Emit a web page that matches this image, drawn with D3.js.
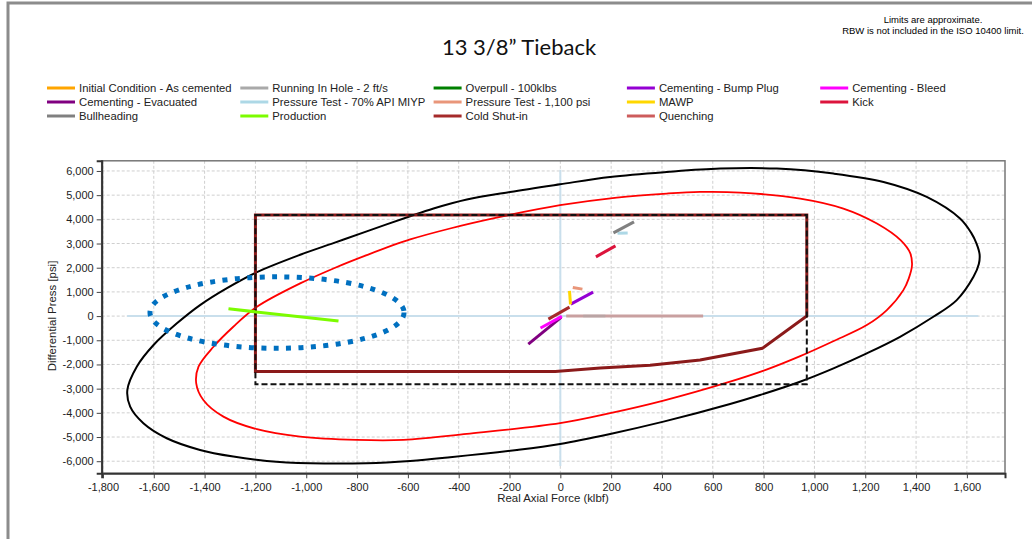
<!DOCTYPE html>
<html>
<head>
<meta charset="utf-8">
<script src="https://cdn.jsdelivr.net/npm/d3@7"></script>
<style>
  body { margin: 0; background: #fff; }
  svg { display: block; font-family: "Liberation Sans", Arial, sans-serif; }
</style>
</head>
<body>
<div id="chart"></div>
<script>
// ---- data ----
var legendNames = [
  "Initial Condition - As cemented", "Running In Hole - 2 ft/s", "Overpull - 100klbs", "Cementing - Bump Plug", "Cementing - Bleed",
  "Cementing - Evacuated", "Pressure Test - 70% API MIYP", "Pressure Test - 1,100 psi", "MAWP", "Kick",
  "Bullheading", "Production", "Cold Shut-in", "Quenching"
];
var legendColors = [
  "#FFA500", "#A9A9A9", "#008000", "#9400D3", "#FF00FF",
  "#800080", "#ADD8E6", "#E9967A", "#FFD700", "#DC143C",
  "#808080", "#7CFC00", "#A52A2A", "#CD5C5C"
];

var xTicks = d3.range(-1800, 1601, 200);
var yTicks = d3.range(-6000, 6001, 1000);

// von Mises ellipse (black) [axial klbf, diff psi]
var vmeOuter = [
  [1650, 2550], [1638, 3000], [1617, 3440], [1573, 4034], [1442, 4926], [1272, 5545], [1075, 5892], [852, 6098],
  [629, 6098], [419, 5958], [196, 5751], [-1, 5450], [-198, 5132], [-368, 4818], [-499, 4447],
  [-591, 4129], [-762, 3501], [-893, 3018], [-1024, 2535], [-1194, 1817], [-1312, 1156], [-1418, 454],
  [-1509, -301], [-1601, -1197], [-1667, -2093], [-1704, -3055], [-1693, -3745], [-1641, -4430],
  [-1549, -5050], [-1418, -5533], [-1287, -5809], [-1155, -5987], [-985, -6082], [-762, -6082],
  [-591, -5987], [-434, -5834], [-171, -5533], [-1, -5285], [196, -4872], [406, -4364], [668, -3633],
  [786, -3262], [943, -2713], [1075, -2159], [1206, -1540], [1337, -855], [1468, -29], [1560, 661],
  [1626, 1623], [1647, 2150]
];
// design ellipse (red)
var vmeDesign = [
  [1384, 2100], [1377, 2600], [1340, 3130], [1246, 3827], [1114, 4447], [944, 4860], [708, 5107], [550, 5132],
  [419, 5066], [222, 4901], [-1, 4583], [-237, 4100], [-434, 3621], [-591, 3167], [-762, 2519],
  [-893, 1969], [-1024, 1350], [-1194, 384], [-1287, -442], [-1365, -1268], [-1424, -2093],
  [-1433, -2779], [-1405, -3468], [-1326, -4158], [-1194, -4678], [-1024, -4983], [-801, -5120],
  [-617, -5120], [-368, -4872], [-1, -4430], [196, -4017], [406, -3497], [668, -2713], [806, -2234],
  [944, -1656], [1074, -1040], [1206, -372], [1285, 248], [1350, 1073], [1371, 1550]
];
// API limits (black dashed box) and triaxial-adjusted envelope (dark red)
var apiBox = [[-1200, 4180], [970, 4180], [970, -2820], [-1200, -2820]];
var designEnv = [[-1200, 4180], [970, 4180], [970, 0], [795, -1334], [550, -1817], [353, -2030],
  [157, -2150], [-20, -2290], [-1200, -2290]];

// load cases
var loadLines = [
  { name: "Running In Hole - 2 ft/s", color: "#c9a0a0", pts: [[23, 0], [562, 0]] },
  { name: "Running In Hole - 2 ft/s", color: "#A9A9A9", pts: [[90, 0], [177, 0]], op: 0.45 },
  { name: "Production", color: "#7CFC00", pts: [[-1306, 301], [-873, -206]] },
  { name: "Cementing - Evacuated", color: "#800080", pts: [[-126, -1156], [3, -54]] },
  { name: "Cementing - Bleed", color: "#FF00FF", pts: [[-78, -495], [6, -12]] },
  { name: "Cold Shut-in", color: "#A52A2A", pts: [[-47, -124], [36, 372]] },
  { name: "Cementing - Bump Plug", color: "#9400D3", pts: [[41, 495], [129, 991]] },
  { name: "MAWP", color: "#FFD700", pts: [[36, 1045], [40, 483]] },
  { name: "Pressure Test - 1,100 psi", color: "#E9967A", pts: [[49, 1185], [87, 1115]] },
  { name: "Kick", color: "#DC143C", pts: [[140, 2448], [217, 2903]] },
  { name: "Pressure Test - 70% API MIYP", color: "#ADD8E6", pts: [[225, 3420], [265, 3440]] },
  { name: "Bullheading", color: "#808080", pts: [[209, 3439], [290, 3893]] }
];

// hand-drawn highlight (blue dotted ellipse) [cx, cy, rx, ry]
var highlight = [-1115, 145, 500, 1478];

// ---- chart ----
var width = 1032, height = 539;
var plot = {left: 101.7, right: 1005, top: 160.8, bottom: 473.3};

var svg = d3.select("#chart").append("svg")
    .attr("width", width)
    .attr("height", height);

var x = d3.scaleLinear().domain([-1805, 1750]).range([plot.left, plot.right]);
var y = d3.scaleLinear().domain([-6500, 6420]).range([plot.bottom, plot.top]);

var fmt = d3.formatLocale({decimal: ".", thousands: ",", grouping: [3], currency: ["$", ""], minus: "-"}).format(",");

// page frame
svg.append("path")
    .attr("d", "M8," + height + "V3H" + width)
    .attr("fill", "none")
    .attr("stroke", "#8c8c8c")
    .attr("stroke-width", 3);

// title and notes
svg.append("text")
    .attr("x", 519).attr("y", 55)
    .attr("text-anchor", "middle")
    .style("font-family", "Lato, 'Open Sans', sans-serif")
    .style("font-size", "22px")
    .attr("fill", "#111")
    .text("13 3/8\u201D Tieback");

svg.append("text")
    .attr("x", 933).attr("y", 23)
    .attr("text-anchor", "middle")
    .style("font-size", "9.5px")
    .text("Limits are approximate.");
svg.append("text")
    .attr("x", 933).attr("y", 34)
    .attr("text-anchor", "middle")
    .style("font-size", "9.5px")
    .text("RBW is not included in the ISO 10400 limit.");

// legend
var legend = svg.append("g").attr("class", "legend");
legendNames.forEach(function(name, i) {
  var col = i % 5, row = Math.floor(i / 5);
  var lx = 47 + col * 193.3, ly = 88 + row * 14;
  legend.append("line")
      .attr("x1", lx).attr("x2", lx + 28)
      .attr("y1", ly).attr("y2", ly)
      .attr("stroke", legendColors[i])
      .attr("stroke-width", 3);
  legend.append("text")
      .attr("x", lx + 32).attr("y", ly + 4)
      .style("font-size", "11.3px")
      .attr("fill", "#222")
      .text(name);
});

// grid
var grid = svg.append("g").attr("class", "grid")
    .attr("stroke", "#cfcfcf")
    .attr("stroke-dasharray", "3,2");
grid.selectAll(".gx").data(xTicks).enter().append("line")
    .attr("x1", function(d) { return x(d); }).attr("x2", function(d) { return x(d); })
    .attr("y1", plot.top).attr("y2", plot.bottom);
grid.selectAll(".gy").data(yTicks).enter().append("line")
    .attr("y1", function(d) { return y(d); }).attr("y2", function(d) { return y(d); })
    .attr("x1", plot.left).attr("x2", plot.right);

// zero lines
svg.append("line")
    .attr("x1", x(-1705)).attr("x2", x(1645))
    .attr("y1", y(0)).attr("y2", y(0))
    .attr("stroke", "#c9dfec").attr("stroke-width", 2);
svg.append("line")
    .attr("x1", x(0)).attr("x2", x(0))
    .attr("y1", y(6050)).attr("y2", y(-6200))
    .attr("stroke", "#c9dfec").attr("stroke-width", 2);

var line = d3.line().x(function(d) { return x(d[0]); }).y(function(d) { return y(d[1]); });
var ellipsePath = d3.line().curve(d3.curveCatmullRomClosed)
    .x(function(d) { return x(d[0]); }).y(function(d) { return y(d[1]); });

var g = svg.append("g").attr("class", "chart-group").attr("fill", "none");

g.append("path").attr("d", ellipsePath(vmeOuter)).attr("stroke", "#000").attr("stroke-width", 2);
g.append("path").attr("d", ellipsePath(vmeDesign)).attr("stroke", "#ff0000").attr("stroke-width", 1.8);

g.append("path").attr("d", line(designEnv) + "Z").attr("stroke", "#8b1a1a").attr("stroke-width", 3);
g.append("path").attr("d", line(apiBox) + "Z").attr("stroke", "#111").attr("stroke-width", 2)
    .attr("stroke-dasharray", "6,3");

g.selectAll(".load").data(loadLines).enter().append("path")
    .attr("class", "load")
    .attr("d", function(d) { return line(d.pts); })
    .attr("stroke", function(d) { return d.color; })
    .attr("stroke-opacity", function(d) { return d.op || 1; })
    .attr("stroke-width", 3);

// highlight
g.append("ellipse")
    .attr("cx", x(highlight[0])).attr("cy", y(highlight[1]))
    .attr("rx", x(highlight[0] + highlight[2]) - x(highlight[0]))
    .attr("ry", y(highlight[1]) - y(highlight[1] + highlight[3]))
    .attr("stroke", "#0070C0").attr("stroke-width", 5)
    .attr("stroke-dasharray", "5,7.4");

// plot border
svg.append("rect")
    .attr("x", plot.left).attr("y", plot.top)
    .attr("width", plot.right - plot.left).attr("height", plot.bottom - plot.top)
    .attr("fill", "none").attr("stroke", "#777").attr("stroke-width", 1.5);

// axes
var xAxis = svg.append("g").attr("class", "x-axis-group axis")
    .attr("transform", "translate(0," + plot.bottom + ")");
xAxis.call(d3.axisBottom(x).tickValues(d3.range(-1800, 1701, 100)).tickSize(3).tickFormat(""));
xAxis.call(d3.axisBottom(x).tickValues(xTicks).tickSize(5).tickFormat(fmt));

var yAxis = svg.append("g").attr("class", "y-axis-group axis")
    .attr("transform", "translate(" + plot.left + ",0)");
yAxis.call(d3.axisLeft(y).tickValues(d3.range(-6500, 6001, 500)).tickSize(3).tickFormat(""));
yAxis.call(d3.axisLeft(y).tickValues(yTicks).tickSize(5).tickFormat(fmt));

svg.selectAll(".axis path.domain").attr("stroke", "#333").attr("stroke-width", 2);
svg.selectAll(".axis .tick line").attr("stroke", "#444");
svg.selectAll(".axis text")
    .style("font-size", "11px")
    .style("font-family", "'Liberation Sans', Arial, sans-serif")
    .attr("fill", "#222");
xAxis.selectAll("text").attr("dy", "0.9em");

svg.append("text")
    .attr("x", 553).attr("y", 502)
    .attr("text-anchor", "middle")
    .style("font-size", "11.4px")
    .attr("fill", "#222")
    .text("Real Axial Force (klbf)");
svg.append("text")
    .attr("transform", "translate(56," + 316 + ") rotate(-90)")
    .attr("text-anchor", "middle")
    .style("font-size", "11.4px")
    .attr("fill", "#222")
    .text("Differential Press [psi]");
</script>
</body>
</html>
